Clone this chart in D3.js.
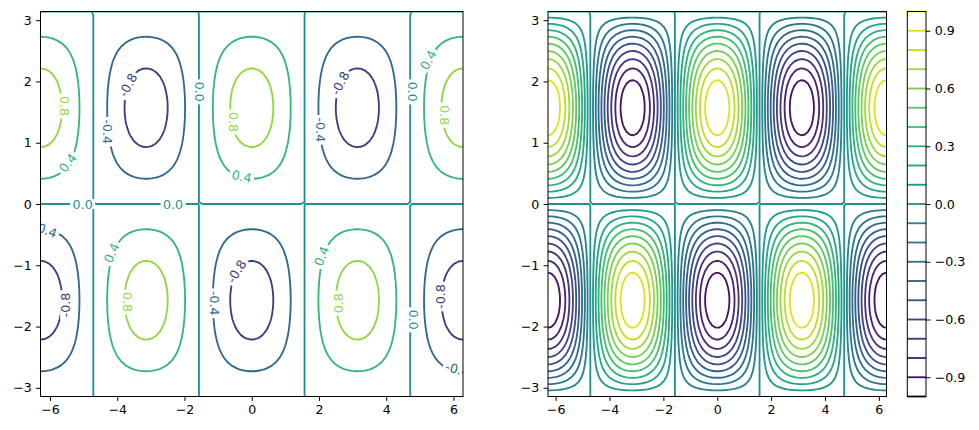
<!DOCTYPE html>
<html><head><meta charset="utf-8">
<script src="https://cdn.jsdelivr.net/npm/d3@7"></script>
<style>
body{margin:0;background:#fff}
svg{display:block}
text{font-family:"DejaVu Sans",sans-serif}
</style>
</head><body>
<svg id="c" width="979" height="430"></svg>
<script>
// ---- data ----
const xTicks = [-6, -4, -2, 0, 2, 4, 6];
const yTicks = [-3, -2, -1, 0, 1, 2, 3];
const leftLevels = [-0.8, -0.4, 0.0, 0.4, 0.8];
const leftColorDomain = [-1.2, 1.2];
const rightLevels = [-1.0, -0.9, -0.8, -0.7, -0.6, -0.5, -0.4, -0.3, -0.2, -0.1, 0.0,
                     0.1, 0.2, 0.3, 0.4, 0.5, 0.6, 0.7, 0.8, 0.9, 1.0];
const rightColorDomain = [-1.0, 1.0];
const cbTicks = [-0.9, -0.6, -0.3, 0.0, 0.3, 0.6, 0.9];
const gridSize = 100;
const xExtent = [-2 * Math.PI, 2 * Math.PI];
const yExtent = [-Math.PI, Math.PI];
// the plotted field z = cos(x) * sin(y)
function field(x, y) { return Math.cos(x) * Math.sin(y); }
// inline contour labels (data coords, level, rotation in degrees)
const labelX   = [-5.58, -5.47, -3.68, -4.28, -1.54, -5.03, -2.34, -0.55, -0.30, 2.63, 2.05, 4.79, 5.25, 5.72,
                  -6.15, -4.17, -5.55, -3.71, -0.45, -1.12, 2.08, 2.58, 4.81, 5.60, 6.12];
const labelY   = [1.60, 0.67, 1.94, 1.18, 1.83, 0.0, 0.0, 1.34, 0.45, 1.97, 1.21, 1.83, 2.35, 1.45,
                  -0.42, -0.80, -1.65, -1.60, -1.10, -1.62, -0.85, -1.62, -1.89, -1.51, -2.70];
const labelLev = [0.8, 0.4, -0.8, -0.4, 0.0, 0.0, 0.0, 0.8, 0.4, -0.8, -0.4, 0.0, 0.4, 0.8,
                  -0.4, 0.4, -0.8, 0.8, -0.8, -0.4, 0.4, 0.8, 0.0, -0.8, -0.4];
const labelRot = [90, -52, -62, 90, 90, 0, 0, 90, 12, -62, 90, 90, -62, 90,
                  20, -65, -90, 90, -58, 90, -68, -90, 90, -90, 15];

// ---- grid ----
const xs = d3.range(gridSize).map(i => xExtent[0] + (xExtent[1] - xExtent[0]) * i / (gridSize - 1));
const ys = d3.range(gridSize).map(j => yExtent[0] + (yExtent[1] - yExtent[0]) * j / (gridSize - 1));
const Z = ys.map(y => xs.map(x => field(x, y)));

function contourLines(t) {
  const nx = xs.length, ny = ys.length;
  const pts = new Map(), adj = new Map();
  function ep(key, x0, y0, v0, x1, y1, v1) {
    if (!pts.has(key)) { const f = (t - v0) / (v1 - v0); pts.set(key, [x0 + f * (x1 - x0), y0 + f * (y1 - y0)]); }
    return key;
  }
  function link(a, b) {
    if (!adj.has(a)) adj.set(a, []);
    if (!adj.has(b)) adj.set(b, []);
    adj.get(a).push(b); adj.get(b).push(a);
  }
  for (let j = 0; j < ny - 1; j++) {
    for (let i = 0; i < nx - 1; i++) {
      const bl = Z[j][i], br = Z[j][i + 1], tl = Z[j + 1][i], tr = Z[j + 1][i + 1];
      const sbl = bl >= t, sbr = br >= t, stl = tl >= t, str = tr >= t;
      let B = null, R = null, T = null, L = null;
      if (sbl !== sbr) B = ep("h" + i + "," + j, xs[i], ys[j], bl, xs[i + 1], ys[j], br);
      if (sbr !== str) R = ep("v" + (i + 1) + "," + j, xs[i + 1], ys[j], br, xs[i + 1], ys[j + 1], tr);
      if (stl !== str) T = ep("h" + i + "," + (j + 1), xs[i], ys[j + 1], tl, xs[i + 1], ys[j + 1], tr);
      if (sbl !== stl) L = ep("v" + i + "," + j, xs[i], ys[j], bl, xs[i], ys[j + 1], tl);
      const cr = [B, R, T, L].filter(k => k !== null);
      if (cr.length === 2) link(cr[0], cr[1]);
      else if (cr.length === 4) {
        const c = (bl + br + tl + tr) / 4;
        if ((c >= t) === sbl) { link(B, R); link(T, L); }
        else { link(L, B); link(R, T); }
      }
    }
  }
  const visited = new Set(), lines = [];
  function walk(start, closed) {
    const line = [pts.get(start)];
    visited.add(start);
    let cur = start;
    while (true) {
      const nb = adj.get(cur).find(k => !visited.has(k));
      if (nb === undefined) break;
      visited.add(nb); line.push(pts.get(nb)); cur = nb;
    }
    if (closed) line.push(pts.get(start));
    lines.push(line);
  }
  for (const [k, v] of adj) if (v.length === 1 && !visited.has(k)) walk(k, false);
  for (const [k] of adj) if (!visited.has(k)) walk(k, true);
  return lines;
}

// ---- layout ----
const svg = d3.select("#c");
const plotTop = 11.5, plotBottom = 396.5;
const panels = [
  { x0: 40.5, x1: 463, levels: leftLevels, dom: leftColorDomain, labels: true },
  { x0: 548, x1: 886.5, levels: rightLevels, dom: rightColorDomain, labels: false }
];
const minus = s => s.replace(/-/g, "\u2212");
const fontSize = 12.6, tickLen = 4.4, tickPad = 4.4, lw = 1.85;

panels.forEach((p, pi) => {
  const x = d3.scaleLinear().domain(xExtent).range([p.x0, p.x1]);
  const y = d3.scaleLinear().domain(yExtent).range([plotBottom, plotTop]);
  const color = t => d3.interpolateViridis((t - p.dom[0]) / (p.dom[1] - p.dom[0]));
  const clipId = "clip" + pi;
  svg.append("clipPath").attr("id", clipId).append("rect")
    .attr("x", p.x0).attr("y", plotTop).attr("width", p.x1 - p.x0).attr("height", plotBottom - plotTop);
  const g = svg.append("g").attr("clip-path", `url(#${clipId})`);
  const line = d3.line().x(d => x(d[0])).y(d => y(d[1]));
  p.levels.forEach(t => {
    const ls = contourLines(t);
    g.selectAll(null).data(ls).enter().append("path")
      .attr("d", line).attr("fill", "none").attr("stroke", color(t))
      .attr("stroke-width", lw).attr("stroke-linejoin", "round").attr("stroke-linecap", "butt");
  });
  if (p.labels) {
    labelX.forEach((lx, i) => {
      const lg = g.append("g").attr("transform", `translate(${x(lx)},${y(labelY[i])}) rotate(${labelRot[i]})`);
      const rect = lg.append("rect").attr("fill", "#fff");
      const txt = lg.append("text").attr("text-anchor", "middle").attr("dominant-baseline", "central")
        .attr("font-size", fontSize).attr("fill", color(labelLev[i])).text(labelLev[i].toFixed(1));
      const w = txt.node().getComputedTextLength() + 5;
      rect.attr("x", -w / 2).attr("y", -5).attr("width", w).attr("height", 10);
    });
  }
  // axes
  const ax = svg.append("g").attr("transform", `translate(0,${plotBottom})`)
    .call(d3.axisBottom(x).tickValues(xTicks).tickSize(tickLen).tickPadding(tickPad).tickFormat(d => minus(String(d))));
  const ay = svg.append("g").attr("transform", `translate(${p.x0},0)`)
    .call(d3.axisLeft(y).tickValues(yTicks).tickSize(tickLen).tickPadding(tickPad).tickFormat(d => minus(String(d))));
  [ax, ay].forEach(a => {
    a.select(".domain").remove();
    a.selectAll("text").attr("font-size", fontSize).attr("font-family", "DejaVu Sans").attr("fill", "#000");
    a.selectAll("line").attr("stroke", "#000").attr("stroke-width", 1);
  });
  svg.append("rect").attr("x", p.x0).attr("y", plotTop).attr("width", p.x1 - p.x0).attr("height", plotBottom - plotTop)
    .attr("fill", "none").attr("stroke", "#000").attr("stroke-width", 1);
});

// ---- colorbar ----
const cbX0 = 907.3, cbX1 = 926;
const cy = d3.scaleLinear().domain(rightColorDomain).range([plotBottom, plotTop]);
const cbColor = t => d3.interpolateViridis((t - rightColorDomain[0]) / (rightColorDomain[1] - rightColorDomain[0]));
svg.append("g").selectAll("line").data(rightLevels).enter().append("line")
  .attr("x1", cbX0).attr("x2", cbX1).attr("y1", d => cy(d)).attr("y2", d => cy(d))
  .attr("stroke", d => cbColor(d)).attr("stroke-width", lw);
const cax = svg.append("g").attr("transform", `translate(${cbX1},0)`)
  .call(d3.axisRight(cy).tickValues(cbTicks).tickSize(tickLen).tickPadding(tickPad).tickFormat(d => minus(d.toFixed(1))));
cax.select(".domain").remove();
cax.selectAll("text").attr("font-size", fontSize).attr("font-family", "DejaVu Sans").attr("fill", "#000");
cax.selectAll("line").attr("stroke", "#000").attr("stroke-width", 1);
svg.append("rect").attr("x", cbX0).attr("y", plotTop).attr("width", cbX1 - cbX0).attr("height", plotBottom - plotTop)
  .attr("fill", "none").attr("stroke", "#000").attr("stroke-width", 1);
</script>
</body></html>
